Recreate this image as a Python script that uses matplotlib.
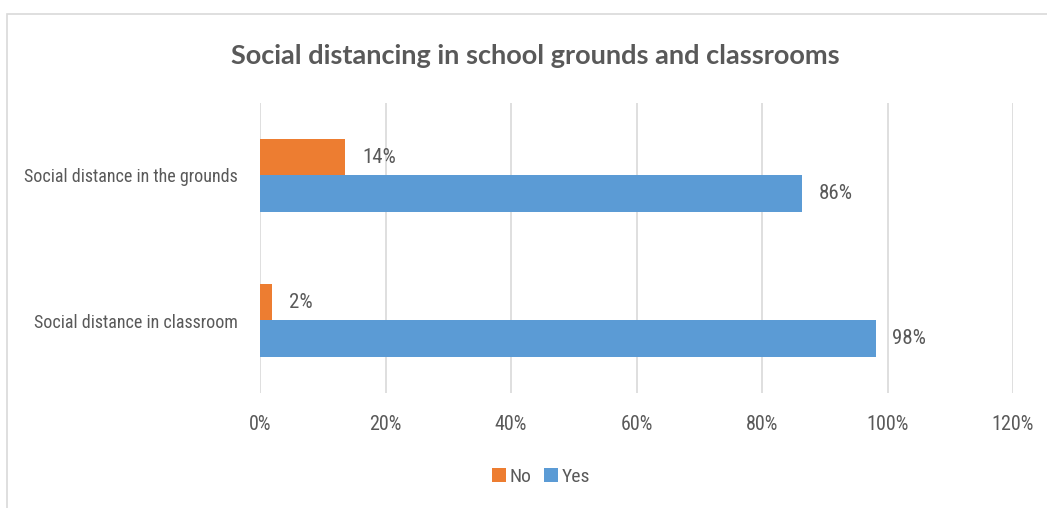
import matplotlib
matplotlib.use('Agg')
import matplotlib.pyplot as plt
from matplotlib.patches import Rectangle
from matplotlib.ticker import PercentFormatter

categories = ['Social distance in classroom', 'Social distance in the grounds']
no_values = [0.019, 0.136]
yes_values = [0.981, 0.864]
x_ticks = [0, 0.2, 0.4, 0.6, 0.8, 1.0, 1.2]

title = 'Social distancing in school grounds and classrooms'
orange = '#ED7D31'
blue = '#5B9BD5'
text_grey = '#595959'
grid_grey = '#D9D9D9'
narrow = ['Roboto Condensed', 'Open Sans Condensed', 'DejaVu Sans']
plt.rcParams['font.stretch'] = 'condensed'

W, H = 1047, 508
fig = plt.figure(figsize=(W / 100, H / 100), dpi=100)

# chart area border (cut off on the right and bottom)
fig.patches.append(Rectangle((7 / W, -0.05), 1.2, 1 - 14 / H + 0.05,
                             transform=fig.transFigure, fill=False,
                             edgecolor=grid_grey, linewidth=1.2))

ax = fig.add_axes([260 / W, 1 - 393 / H, (1013 - 260) / W, (393 - 103) / H])

bar_h = 0.255
pos = list(range(len(categories)))
no_bars = ax.barh([p + bar_h / 2 for p in pos], no_values, height=bar_h,
                  color=orange, label='No')
yes_bars = ax.barh([p - bar_h / 2 for p in pos], yes_values, height=bar_h,
                   color=blue, label='Yes')

for bars, vals in [(no_bars, no_values), (yes_bars, yes_values)]:
    for b, v in zip(bars, vals):
        ax.annotate(f'{v:.0%}', (v, b.get_y() + b.get_height() / 2),
                    xytext=(12, 0), textcoords='offset points',
                    va='center', ha='left', fontsize=15, color=text_grey,
                    family=narrow)

ax.set_xlim(0, 1.2)
ax.set_ylim(-0.5, len(categories) - 0.5)
ax.set_xticks(x_ticks)
ax.xaxis.set_major_formatter(PercentFormatter(1.0, decimals=0))
ax.set_yticks(pos)
ax.set_yticklabels(categories)
ax.grid(axis='x', color=grid_grey, linewidth=1.2)
ax.set_axisbelow(True)
for s in ax.spines.values():
    s.set_visible(False)
ax.tick_params(length=0, colors=text_grey, labelsize=14.5)
ax.tick_params(axis='x', pad=16)
ax.tick_params(axis='y', pad=16, labelsize=13)
for lbl in ax.get_xticklabels() + ax.get_yticklabels():
    lbl.set_family(narrow)

fig.text(535 / W, 1 - 56 / H, title, ha='center', va='center',
         fontsize=19.5, fontweight='bold', color=text_grey, family='Lato')

leg = fig.legend(handles=[no_bars, yes_bars], labels=['No', 'Yes'],
                 loc='center', bbox_to_anchor=(541 / W, 1 - 477 / H),
                 ncol=2, frameon=False, handlelength=0.75, handleheight=0.75,
                 handletextpad=0.2, columnspacing=0.6,
                 prop={'family': narrow, 'size': 14})
for t in leg.get_texts():
    t.set_color(text_grey)

fig.savefig('out.png', dpi=100)
